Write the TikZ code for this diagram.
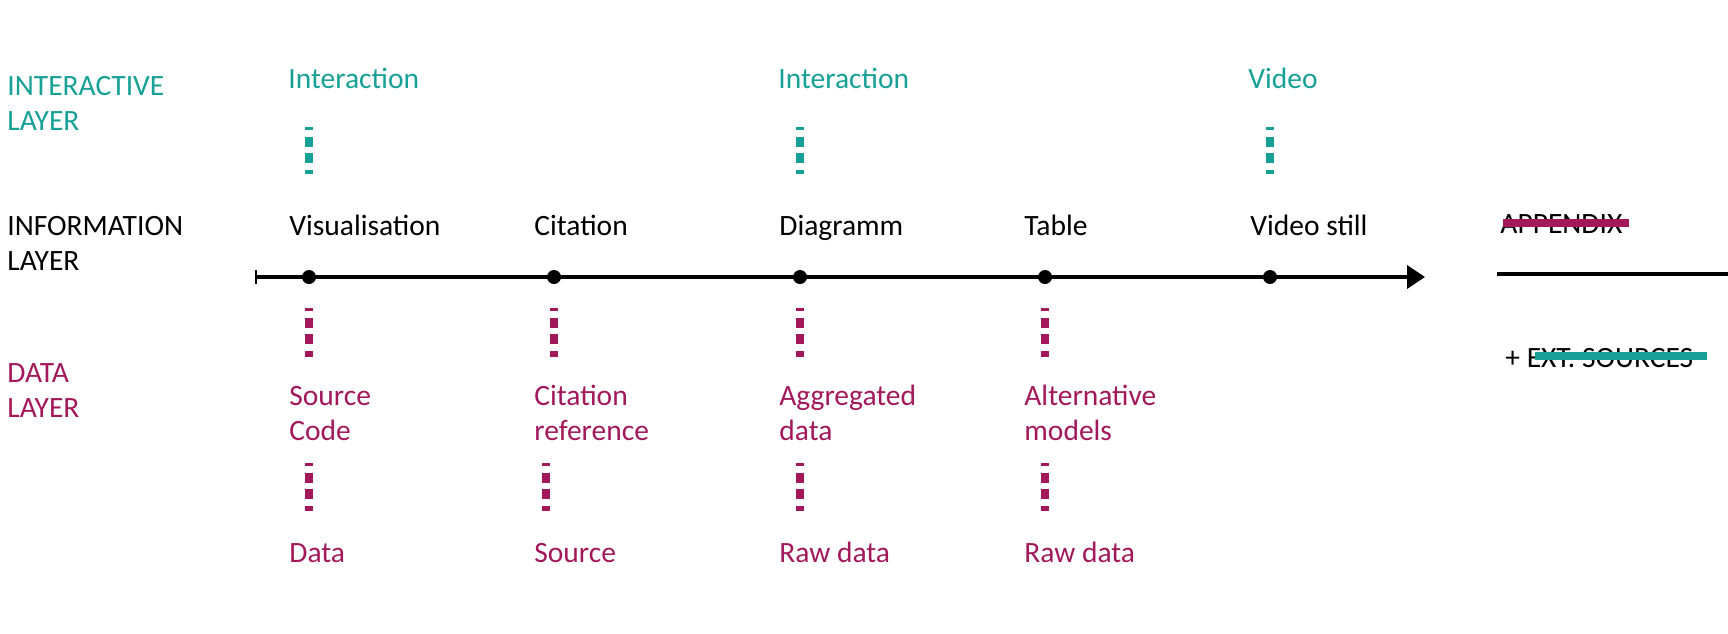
\documentclass[tikz,border=0pt]{standalone}
\usepackage{fontspec}
\setmainfont{Carlito}
\usepackage{xcolor}
\usetikzlibrary{arrows.meta, positioning}

\definecolor{interteal}{RGB}{22,160,150}
\definecolor{datamagenta}{RGB}{162,24,90}

\begin{document}
\begin{tikzpicture}[
    x=0.5pt, y=-0.5pt,
    font=\fontsize{14.75}{17.5}\selectfont,
    label text/.style={anchor=base west, inner sep=0pt, align=left},
    link dots/.style={line width=4pt, dash pattern=on 5pt off 3.25pt, dash phase=3.5pt},
    time line/.style={line width=2pt, {Bar[width=7pt, line width=1.2pt]}-{Triangle[length=9pt, width=11.5pt]}},
    event dot/.style={circle, fill=black, inner sep=0pt, minimum size=7pt},
    strike style/.style={line width=4pt}
]
    \useasboundingbox (0,0) rectangle (1728,633);

    % --- LAYER NAMES ---
    % (base of a two-line node = baseline of its last line)
    \node[label text, interteal] (interactive) at (7,130) {INTERACTIVE\\LAYER};
    \node[label text] (information) at (7,270) {INFORMATION\\LAYER};
    \node[label text, datamagenta] (data) at (7,417) {DATA\\LAYER};

    % --- TIMELINE ---
    \coordinate (start) at (255,277);
    \coordinate (end) at (1425,277);
    \draw[time line] (start) -- (end);

    \foreach \name/\x in {vis/309, cit/554, dia/800, tab/1045, vid/1270}
        \node[event dot] (\name) at (\x,277) {};

    % Information layer
    \node[label text] (visinfo) at (289,235) {Visualisation};
    \node[label text] (citinfo) at (534,235) {Citation};
    \node[label text] (diainfo) at (779,235) {Diagramm};
    \node[label text] (tabinfo) at (1024,235) {Table};
    \node[label text] (vidinfo) at (1250,235) {Video still};

    % Interactive layer
    \node[label text, interteal] (visinter) at (288,88) {Interaction};
    \node[label text, interteal] (diainter) at (778,88) {Interaction};
    \node[label text, interteal] (vidinter) at (1248,88) {Video};

    \foreach \name in {vis, dia, vid}
        \draw[link dots, interteal] (\name |- 0,127) -- (\name |- 0,174);

    % Data layer
    \node[label text, datamagenta] (visdata) at (289,440) {Source\\Code};
    \node[label text, datamagenta] (citdata) at (534,440) {Citation\\reference};
    \node[label text, datamagenta] (diadata) at (779,440) {Aggregated\\data};
    \node[label text, datamagenta] (tabdata) at (1024,440) {Alternative\\models};

    \node[label text, datamagenta] (visraw) at (289,562) {Data};
    \node[label text, datamagenta] (citraw) at (534,562) {Source};
    \node[label text, datamagenta] (diaraw) at (779,562) {Raw data};
    \node[label text, datamagenta] (tabraw) at (1024,562) {Raw data};

    \foreach \name in {vis, cit, dia, tab}
        \draw[link dots, datamagenta] (\name |- 0,308) -- (\name |- 0,357);
    \foreach \name in {vis, dia, tab}
        \draw[link dots, datamagenta] (\name |- 0,463) -- (\name |- 0,511);
    \draw[link dots, datamagenta] ([xshift=-4pt]cit |- 0,463) -- ([xshift=-4pt]cit |- 0,511);

    % --- APPENDIX ---
    \node[label text] (appendix) at (1500,233) {APPENDIX};
    \draw[strike style, datamagenta] ([xshift=1.5pt, yshift=5pt]appendix.base west) -- ([xshift=3pt, yshift=5pt]appendix.base east);

    \coordinate (appstart) at (1497,274);
    \coordinate (append) at (1728,274);
    \draw[line width=2pt] (appstart) -- (append);

    \node[label text] (extsources) at (1505,367) {+ EXT. SOURCES};
    \draw[strike style, interteal] ([xshift=15pt, yshift=5.5pt]extsources.base west) -- ([xshift=6.5pt, yshift=5.5pt]extsources.base east);

\end{tikzpicture}
\end{document}
